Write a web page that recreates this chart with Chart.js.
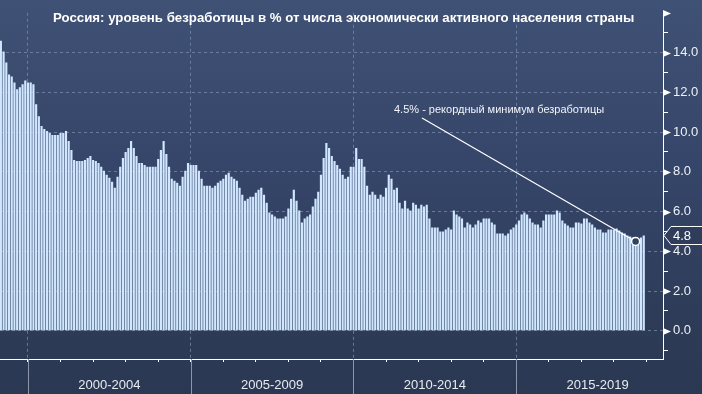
<!DOCTYPE html>
<html>
<head>
<meta charset="utf-8">
<script src="https://cdn.jsdelivr.net/npm/chart.js@4.4.1/dist/chart.umd.min.js"></script>
<style>
  html, body { margin: 0; padding: 0; background: #2b3853; }
  #wrap {
    width: 702px; height: 394px; position: relative;
    background: linear-gradient(to bottom, #3f5174 0px, #36466a 160px, #2d3b57 330px, #2b3853 394px);
  }
</style>
</head>
<body>
<div id="wrap"><canvas id="grafico" width="702" height="394"></canvas></div>
<script>
// monthly unemployment, %, first value = Feb 1999, last = Nov 2018
const startYear = 1999;
const startMonth = 2;
const rates = [
  14.6, 14.05, 13.5, 12.9, 12.8, 12.5, 12.15, 12.25, 12.4, 12.6, 12.5,   // 1999
  12.5, 12.4, 11.4, 10.8, 10.3, 10.15, 10.05, 9.95, 9.85, 9.85, 9.85, 9.95, // 2000
  9.95, 10.05, 9.55, 9.1, 8.6, 8.55, 8.55, 8.55, 8.6, 8.7, 8.8, 8.6,       // 2001
  8.55, 8.45, 8.25, 8.05, 7.85, 7.7, 7.5, 7.2, 7.75, 8.25, 8.7, 9.0,       // 2002
  9.2, 9.55, 9.2, 8.8, 8.45, 8.45, 8.35, 8.25, 8.25, 8.25, 8.25, 8.65,     // 2003
  9.1, 9.55, 8.9, 8.25, 7.65, 7.55, 7.45, 7.3, 7.75, 8.05, 8.45, 8.35,     // 2004
  8.35, 8.35, 8.05, 7.65, 7.3, 7.3, 7.3, 7.2, 7.3, 7.45, 7.55, 7.65,       // 2005
  7.85, 7.95, 7.75, 7.65, 7.55, 7.2, 6.85, 6.55, 6.65, 6.75, 6.75, 6.95,   // 2006
  7.1, 7.2, 6.85, 6.45, 5.95, 5.85, 5.75, 5.65, 5.65, 5.65, 5.75, 6.15,    // 2007
  6.65, 7.1, 6.55, 6.05, 5.45, 5.65, 5.75, 5.85, 6.25, 6.65, 7.0, 7.85,    // 2008
  8.7, 9.45, 9.2, 8.8, 8.55, 8.35, 8.15, 7.85, 7.65, 7.75, 8.25, 8.25,     // 2009
  9.2, 8.65, 8.65, 8.25, 7.3, 6.85, 7.0, 6.85, 6.65, 6.85, 6.75, 7.2,      // 2010
  7.85, 7.65, 7.1, 7.2, 6.45, 6.15, 6.55, 6.15, 6.05, 6.45, 6.35, 6.15,    // 2011
  6.35, 6.25, 6.35, 5.65, 5.2, 5.2, 5.2, 5.0, 5.0, 5.1, 5.2, 5.1,          // 2012
  6.05, 5.85, 5.75, 5.65, 5.2, 5.45, 5.35, 5.2, 5.35, 5.55, 5.45, 5.65,    // 2013
  5.65, 5.65, 5.45, 5.35, 4.9, 4.9, 4.9, 4.8, 4.9, 5.1, 5.2, 5.35,         // 2014
  5.55, 5.85, 5.95, 5.85, 5.65, 5.45, 5.35, 5.35, 5.2, 5.55, 5.85, 5.85,   // 2015
  5.85, 5.85, 6.05, 5.95, 5.55, 5.4, 5.3, 5.2, 5.2, 5.45, 5.45, 5.4,       // 2016
  5.65, 5.65, 5.45, 5.35, 5.2, 5.1, 5.1, 4.95, 4.95, 5.1, 5.1, 5.1,        // 2017
  5.15, 5.05, 4.95, 4.9, 4.8, 4.75, 4.7, 4.5, 4.6, 4.7, 4.8                // 2018
];
const months = rates.map((_, i) => {
  const t = startMonth - 1 + i;
  return `${startYear + Math.floor(t / 12)}-${String((t % 12) + 1).padStart(2, '0')}`;
});
const periodStarts = [2000, 2005, 2010, 2015];
const periodLabels = ['2000-2004', '2005-2009', '2010-2014', '2015-2019'];
const yearTicks = [2000, 2001, 2002, 2003, 2004, 2005, 2006, 2007, 2008, 2009,
  2010, 2011, 2012, 2013, 2014, 2015, 2016, 2017, 2018, 2019];
const yTickValues = [-1, 0, 1, 2, 3, 4, 5, 6, 7, 8, 9, 10, 11, 12, 13, 14, 15, 16];
const titulo = 'Россия: уровень безработицы в % от числа экономически активного населения страны';
const nota = '4.5% - рекордный минимум безработицы';

const FONT = '"Liberation Sans", Arial, sans-serif';
const gridColor = 'rgba(120, 140, 172, 0.75)';

// bars sit at the month end, like the terminal does
const xOf = (m) => {
  const [y, mm] = m.split('-').map(Number);
  return y + mm / 12;
};

const extras = {
  id: 'extras',
  afterDraw(chart) {
    const { ctx, chartArea, scales } = chart;
    const x = scales.x;
    const y = scales.y;
    ctx.save();

    // title
    ctx.fillStyle = '#ffffff';
    ctx.font = 'bold 13.25px ' + FONT;
    ctx.textBaseline = 'middle';
    ctx.textAlign = 'left';
    ctx.fillText(titulo, 53, 18);

    // triangles on the right axis
    ctx.fillStyle = '#ffffff';
    yTickValues.filter((v) => v >= 0 && v % 2 === 0).forEach((v) => {
      const py = Math.round(y.getPixelForValue(v)) + 0.5;
      ctx.beginPath();
      ctx.moveTo(chartArea.right, py - 3.5);
      ctx.lineTo(chartArea.right + 8, py);
      ctx.lineTo(chartArea.right, py + 3.5);
      ctx.closePath();
      ctx.fill();
    });

    // period separators and labels
    ctx.strokeStyle = '#8d96a8';
    ctx.lineWidth = 1;
    periodStarts.forEach((p, i) => {
      const px = Math.round(x.getPixelForValue(p)) + 0.5;
      ctx.beginPath();
      ctx.moveTo(px, chartArea.bottom);
      ctx.lineTo(px, chart.height);
      ctx.stroke();
      ctx.fillStyle = '#e8ebf1';
      ctx.font = '13px ' + FONT;
      ctx.textAlign = 'center';
      ctx.fillText(periodLabels[i], x.getPixelForValue(p + 2.5), 385);
    });

    // record minimum note
    let iMin = 0;
    rates.forEach((r, i) => { if (r < rates[iMin]) iMin = i; });
    const cx = x.getPixelForValue(xOf(months[iMin]));
    const cy = y.getPixelForValue(rates[iMin]);
    ctx.fillStyle = '#f2f4f8';
    ctx.font = '11px ' + FONT;
    ctx.textAlign = 'left';
    ctx.fillText(nota, 394, 110);
    const sx = 422, sy = 118;
    const d = Math.hypot(cx - sx, cy - sy);
    const r = 4;
    ctx.strokeStyle = '#ffffff';
    ctx.lineWidth = 1.2;
    ctx.beginPath();
    ctx.moveTo(sx, sy);
    ctx.lineTo(cx - (cx - sx) * r / d, cy - (cy - sy) * r / d);
    ctx.stroke();
    ctx.beginPath();
    ctx.arc(cx, cy, r, 0, Math.PI * 2);
    ctx.fillStyle = '#33425f';
    ctx.fill();
    ctx.lineWidth = 1.5;
    ctx.stroke();

    // last value box
    const last = rates[rates.length - 1];
    const ly = Math.round(y.getPixelForValue(last)) + 0.5;
    const lx = chartArea.right + 1;
    ctx.beginPath();
    ctx.moveTo(lx, ly);
    ctx.lineTo(lx + 7, ly - 9);
    ctx.lineTo(chart.width + 2, ly - 9);
    ctx.lineTo(chart.width + 2, ly + 9);
    ctx.lineTo(lx + 7, ly + 9);
    ctx.closePath();
    ctx.fillStyle = '#2f3d5a';
    ctx.fill();
    ctx.strokeStyle = '#ffffff';
    ctx.lineWidth = 1;
    ctx.stroke();
    ctx.fillStyle = '#ffffff';
    ctx.font = '13px ' + FONT;
    ctx.textAlign = 'left';
    ctx.fillText(last.toFixed(1), lx + 9, ly + 1);

    ctx.restore();
  },
};

const ctx = document.getElementById('grafico');
new Chart(ctx, {
  type: 'bar',
  data: {
    datasets: [
      {
        data: months.map((m, i) => ({ x: xOf(m), y: rates[i] })),
        backgroundColor: '#d0e7ff',
        barPercentage: 1,
        categoryPercentage: 0.8,
      },
    ],
  },
  options: {
    responsive: false,
    animation: false,
    devicePixelRatio: 1,
    layout: { padding: { top: 2, left: 0, right: 0, bottom: 0 } },
    plugins: { legend: { display: false }, tooltip: { enabled: false } },
    scales: {
      x: {
        type: 'linear',
        offset: false,
        min: 2000 - 28 / 32.55,
        max: 2000 + 635 / 32.55,
        afterBuildTicks: (s) => { s.ticks = yearTicks.map((v) => ({ value: v })); },
        afterFit: (s) => { s.height = 35; },
        ticks: { display: false },
        grid: {
          offset: false,
          color: (c) => (c.tick && c.tick.value % 5 === 0 ? gridColor : 'transparent'),
          tickColor: '#ffffff',
          tickLength: 3,
        },
        border: { color: '#ffffff', dash: [3, 3] },
      },
      y: {
        position: 'right',
        min: -1.415,
        max: 16,
        afterBuildTicks: (s) => { s.ticks = yTickValues.map((v) => ({ value: v })); },
        afterFit: (s) => { s.width = 39; },
        ticks: {
          callback: (v) => (v % 2 === 0 && v >= 0 && v <= 14 ? v.toFixed(1) : ''),
          color: '#eef1f6',
          font: { size: 13, family: FONT },
          padding: 5,
        },
        grid: {
          color: (c) => (c.tick && c.tick.value % 2 === 0 && c.tick.value >= 0 && c.tick.value <= 14 ? gridColor : 'transparent'),
          tickColor: (c) => (c.tick && Math.abs(c.tick.value % 2) === 1 ? '#ffffff' : 'transparent'),
          tickLength: 5,
        },
        border: { color: '#ffffff', dash: [3, 3] },
      },
    },
  },
  plugins: [extras],
});
</script>
</body>
</html>
